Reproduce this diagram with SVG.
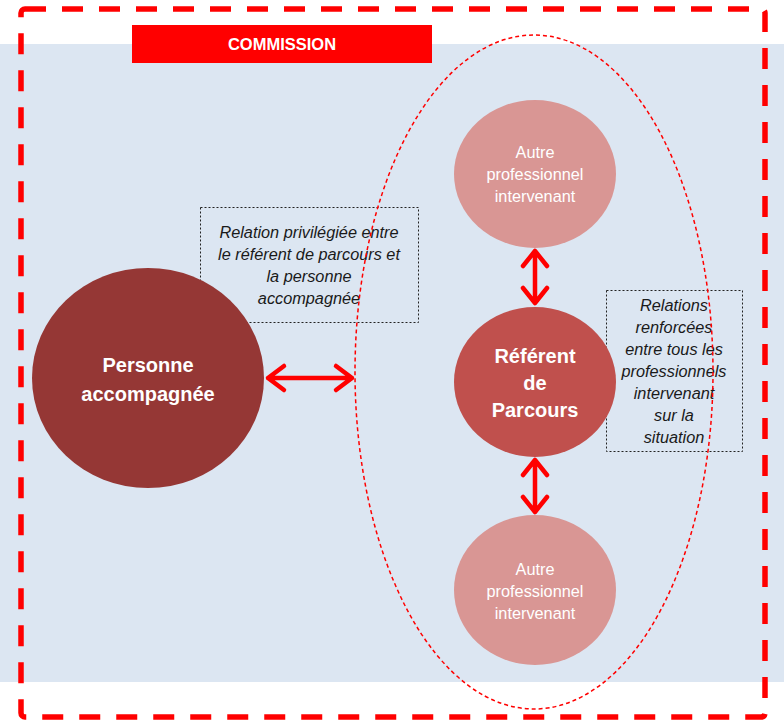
<svg xmlns="http://www.w3.org/2000/svg" width="784" height="722" viewBox="0 0 784 722">
<style>
.bg{fill:#dce6f2}
.frame{fill:none;stroke:#ff0000;stroke-width:5.5;stroke-dasharray:21 16}
.oval{fill:none;stroke:#ff0000;stroke-width:1.5;stroke-dasharray:4 3}
.note{fill:none;stroke:#222;stroke-width:1;stroke-dasharray:2 2}
.arrow{fill:none;stroke:#ff0000;stroke-width:4.5;stroke-linecap:round;stroke-linejoin:round}
.t{font-family:"Liberation Sans",Arial,sans-serif;text-anchor:middle}
.w{fill:#ffffff}
.b{font-weight:bold}
.i{font-style:italic;fill:#1a1a1a;font-size:16.3px}
.s{font-size:16.3px}
</style>
<rect class="bg" x="0" y="44" width="784" height="638"/>
<g id="commission">
<rect x="132" y="25" width="300" height="38" fill="#ff0000"/>
<text class="t w b" x="282" y="50" font-size="16.5">COMMISSION</text>
</g>
<g id="note1">
<rect class="note" x="200.5" y="207.5" width="218" height="115"/>
<text class="t i" x="309" y="238">Relation privilégiée entre</text>
<text class="t i" x="309" y="260">le référent de parcours et</text>
<text class="t i" x="309" y="282">la personne</text>
<text class="t i" x="309" y="304">accompagnée</text>
</g>
<g id="note2">
<rect class="note" x="606.5" y="290.5" width="136" height="161"/>
<text class="t i" x="674" y="311">Relations</text>
<text class="t i" x="674" y="333">renforcées</text>
<text class="t i" x="674" y="355">entre tous les</text>
<text class="t i" x="674" y="377">professionnels</text>
<text class="t i" x="674" y="399">intervenant</text>
<text class="t i" x="674" y="421">sur la</text>
<text class="t i" x="674" y="443">situation</text>
</g>
<g id="group-oval">
<ellipse class="oval" cx="534" cy="372" rx="179" ry="337"/>
</g>
<g id="personne">
<ellipse cx="148" cy="378" rx="116" ry="110" fill="#953735"/>
<text class="t w b" x="148" y="372" font-size="20">Personne</text>
<text class="t w b" x="148" y="401" font-size="20">accompagnée</text>
</g>
<g id="autre1">
<ellipse cx="535" cy="174" rx="81" ry="74" fill="#d99694"/>
<text class="t w s" x="535" y="158">Autre</text>
<text class="t w s" x="535" y="180">professionnel</text>
<text class="t w s" x="535" y="202">intervenant</text>
</g>
<g id="referent">
<ellipse cx="535" cy="382" rx="81" ry="75" fill="#c0504d"/>
<text class="t w b" x="535" y="363" font-size="20">Référent</text>
<text class="t w b" x="535" y="390" font-size="20">de</text>
<text class="t w b" x="535" y="417" font-size="20">Parcours</text>
</g>
<g id="autre2">
<ellipse cx="535" cy="590" rx="81" ry="75" fill="#d99694"/>
<text class="t w s" x="535" y="575">Autre</text>
<text class="t w s" x="535" y="597">professionnel</text>
<text class="t w s" x="535" y="619">intervenant</text>
</g>
<g id="connectors">
<path class="arrow" d="M268 378H352M284 366L268 378L284 390M336 366L352 378L336 390"/>
<path class="arrow" d="M535 251V303M523 266L535 251L547 266M523 288L535 303L547 288"/>
<path class="arrow" d="M535 460V512M523 475L535 460L547 475M523 497L535 512L547 497"/>
</g>
<g id="frame">
<rect class="frame" x="21" y="9" width="744" height="708" rx="4"/>
</g>
</svg>
